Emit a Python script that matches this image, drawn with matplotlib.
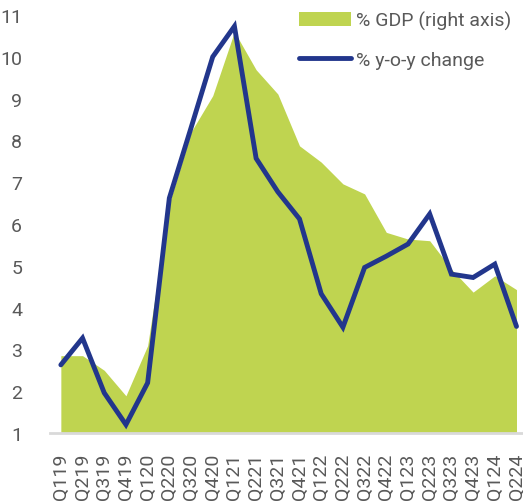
import numpy as np
import matplotlib
matplotlib.use("Agg")
import matplotlib.pyplot as plt

plt.rcParams['font.family'] = ['Roboto', 'DejaVu Sans']

quarters = ["Q119", "Q219", "Q319", "Q419", "Q120", "Q220", "Q320", "Q420",
            "Q121", "Q221", "Q321", "Q421", "Q122", "Q222", "Q322", "Q422",
            "Q123", "Q223", "Q323", "Q423", "Q124", "Q224"]

# % GDP (area)
gdp_share = [2.85, 2.85, 2.5, 1.89, 3.09, 6.5, 8.2, 9.07,
             10.6, 9.69, 9.11, 7.87, 7.48, 6.96, 6.72, 5.80,
             5.64, 5.60, 4.92, 4.37, 4.76, 4.43]

# % y-o-y change (line)
yoy_change = [2.63, 3.27, 1.96, 1.2, 2.2, 6.62, 8.3, 10.0,
              10.73, 7.57, 6.77, 6.12, 4.33, 3.53, 4.96, 5.23,
              5.52, 6.24, 4.80, 4.72, 5.04, 3.55]

green = "#bfd450"
navy = "#22368c"
grey = "#595959"

x = np.arange(len(quarters))

fig = plt.figure(figsize=(5.23, 5.02), dpi=100)
ax = fig.add_axes([50/523, 68/502, 473/523, 418/502])

ax.fill_between(x, 1, gdp_share, color=green, linewidth=0, label="% GDP (right axis)")
ax.plot(x, yoy_change, color=navy, linewidth=3.5, solid_capstyle="round",
        solid_joinstyle="miter", label="% y-o-y change")

ax.set_xlim(-0.5, 21.3)
ax.set_ylim(1, 11)
ax.set_yticks(range(1, 12))
ax.set_xticks(x)
ax.set_xticklabels(quarters, rotation=90)
ax.tick_params(axis="both", length=0, labelsize=14, colors=grey)
ax.tick_params(axis="x", pad=14)
ax.tick_params(axis="y", pad=20)

for s in ["left", "right", "top"]:
    ax.spines[s].set_visible(False)
ax.spines["bottom"].set_color("#d9d9d9")
ax.spines["bottom"].set_linewidth(2)

leg = ax.legend(loc="upper right", bbox_to_anchor=(1.0, 1.0),
                bbox_transform=fig.transFigure, frameon=False, fontsize=14,
                handlelength=2.7, handletextpad=0.25, labelspacing=1.1,
                borderaxespad=0.2)
for t in leg.get_texts():
    t.set_color(grey)

fig.savefig("out.png", dpi=100)
